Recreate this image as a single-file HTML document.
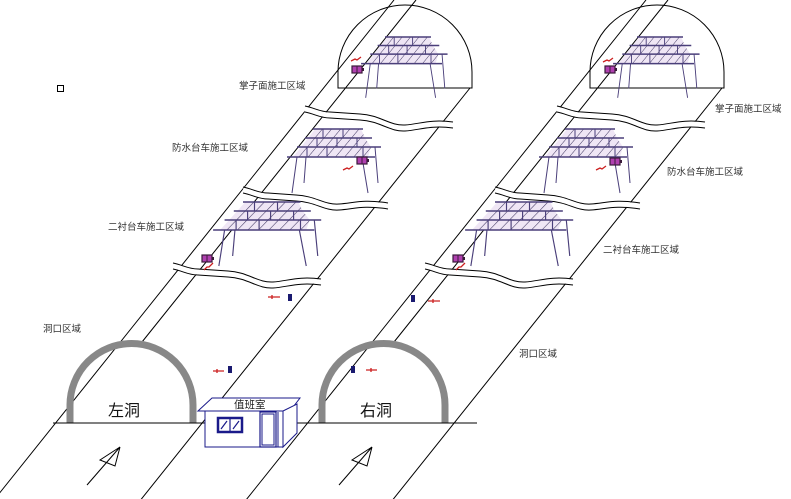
<!DOCTYPE html>
<html><head><meta charset="utf-8"><style>
html,body{margin:0;padding:0;background:#fff;width:791px;height:499px;overflow:hidden}
svg{display:block}
text{font-family:"Liberation Sans","Noto Sans CJK SC",sans-serif;fill:#333}
</style></head><body>
<svg width="791" height="499" viewBox="0 0 791 499" xmlns="http://www.w3.org/2000/svg">
<defs>
<pattern id="h" width="7" height="7" patternUnits="userSpaceOnUse" patternTransform="rotate(40)">
<rect width="7" height="7" fill="#efe6f5"/><line x1="0" y1="0" x2="0" y2="7" stroke="#3e3560" stroke-width="1"/>
</pattern>
<g id="sc">
<polygon points="2,0 48,0 52,9 58,18 55,28 -20,28 -12,18 -5,9" fill="url(#h)"/>
<path d="M10,0V9M30,0V9M4,9V18M24,9V18M44,9V18M-6,18V28M14,18V28M50,18V28" stroke="#4a3f7a" stroke-width="1" fill="none"/>
<path d="M0,0H50M-8,9H59M-16,18H68M-26,28H62" stroke="#4a3f7a" stroke-width="1.6" fill="none"/>
<path d="M-16,28L-21,64M-7,28L-9,54M49,28L55,64M62,18L65,54" stroke="#4a3f7a" stroke-width="1" fill="none"/>
</g>
<path id="w1" d="M305,106 c10,2 15,6 25,6 l30,2 c20,1 30,12 45,11 c15,-1 25,-6 48,-3"/>
<path id="w2" d="M243,187 c10,2 15,6 25,6 l28,2 c20,1 28,10 43,9 c15,-1 24,-5 49,-1"/>
<path id="w3" d="M173,263 c10,2 15,6 25,6 l30,2 c20,1 30,12 45,11 c15,-1 25,-6 48,-3"/>
<g id="wv">
<use href="#w1" transform="translate(0,3)" stroke="#fff" stroke-width="5" fill="none"/>
<use href="#w2" transform="translate(0,3)" stroke="#fff" stroke-width="5" fill="none"/>
<use href="#w3" transform="translate(0,3)" stroke="#fff" stroke-width="5" fill="none"/>
<use href="#w1" stroke="#000" stroke-width="1" fill="none"/>
<use href="#w2" stroke="#000" stroke-width="1" fill="none"/>
<use href="#w3" stroke="#000" stroke-width="1" fill="none"/>
<use href="#w1" transform="translate(0,6)" stroke="#000" stroke-width="1" fill="none"/>
<use href="#w2" transform="translate(0,6)" stroke="#000" stroke-width="1" fill="none"/>
<use href="#w3" transform="translate(0,6)" stroke="#000" stroke-width="1" fill="none"/>
</g>
<g id="tun">
<path d="M394,0L-6,500M416,0L142,342M470,88L139,502" stroke="#000" stroke-width="1" fill="none"/>
<use href="#wv"/>
<path d="M338,88V72A67,67 0 0 1 472,72V88Z" stroke="#000" stroke-width="1" fill="none"/>
<path d="M70,423V405A61.5,61.5 0 0 1 193,405V423" stroke="#888" stroke-width="7" fill="none"/>
<use href="#sc" transform="translate(385,37) scale(0.92,0.95)"/>
<use href="#sc" transform="translate(313,129)"/>
<use href="#sc" transform="translate(243,202) scale(1.15,1)"/>
<path d="M87,485L120,447L100,460L115,466L120,447" stroke="#000" stroke-width="1" fill="none"/>
</g>
<g id="cam"><rect x="0" y="0" width="10" height="7" fill="#b040b0" stroke="#3a1a3a" stroke-width="1.2"/><line x1="5" y1="0" x2="5" y2="7" stroke="#3a1a3a"/><rect x="10" y="2" width="2" height="3" fill="#3a1a3a"/></g>
</defs>
<use href="#tun"/>
<use href="#tun" transform="translate(252,0)"/>
<line x1="53" y1="423" x2="477" y2="423" stroke="#000" stroke-width="1"/>
<rect x="57.5" y="85.5" width="6" height="6" fill="none" stroke="#000"/>
<g stroke="#cc2020" stroke-width="1.3" fill="none">
<path d="M351,61l4,-2l2,1l4,-3"/><path d="M343,170l4,-2l2,1l4,-3"/><path d="M204,270l3,-3l2,0l4,-4"/>
<path d="M268,297h12M272,295v4"/><path d="M213,371h11M217,369v4"/>
<path d="M603,62l4,-2l2,1l4,-3"/><path d="M596,170l4,-2l2,1l4,-3"/><path d="M456,270l3,-3l2,0l4,-4"/>
<path d="M428,301h12M433,299v4"/><path d="M366,370h11M371,368v4"/>
</g>
<use href="#cam" x="352" y="66"/><use href="#cam" x="357" y="157"/><use href="#cam" x="202" y="255"/>
<use href="#cam" x="605" y="66"/><use href="#cam" x="610" y="158"/><use href="#cam" x="453" y="255"/>
<g fill="#1a1a70"><rect x="288" y="294" width="4" height="7"/><rect x="228" y="366" width="4" height="7"/><rect x="411" y="295" width="4" height="7"/><rect x="351" y="366" width="4" height="7"/></g>
<g stroke="#1a1a8a" stroke-width="1" fill="#fff">
<polygon points="198,411 212,398 300,398 290,411"/>
<rect x="205" y="411" width="78" height="36"/>
<polygon points="283,411 297,404 297,433 283,447"/>
<rect x="218" y="418" width="24" height="14" stroke-width="2.5"/>
<path d="M230,418V432M221,429l6,-8M233,429l6,-8" stroke-width="1.2"/>
<rect x="260" y="412" width="16" height="35" stroke-width="1.2"/>
<rect x="262" y="414" width="12" height="31" stroke-width="1"/>
<line x1="278" y1="412" x2="278" y2="447"/>
</g>
<text x="234" y="408" font-size="10.5" style="fill:#222">值班室</text>
<g font-size="9.5">
<text x="239" y="89">掌子面施工区域</text>
<text x="172" y="151">防水台车施工区域</text>
<text x="108" y="230">二衬台车施工区域</text>
<text x="43" y="332">洞口区域</text>
<text x="715" y="112">掌子面施工区域</text>
<text x="667" y="175">防水台车施工区域</text>
<text x="603" y="253">二衬台车施工区域</text>
<text x="519" y="357">洞口区域</text>
</g>
<text x="108" y="416" font-size="16" style="fill:#111">左洞</text>
<text x="360" y="416" font-size="16" style="fill:#111">右洞</text>
</svg>
</body></html>
